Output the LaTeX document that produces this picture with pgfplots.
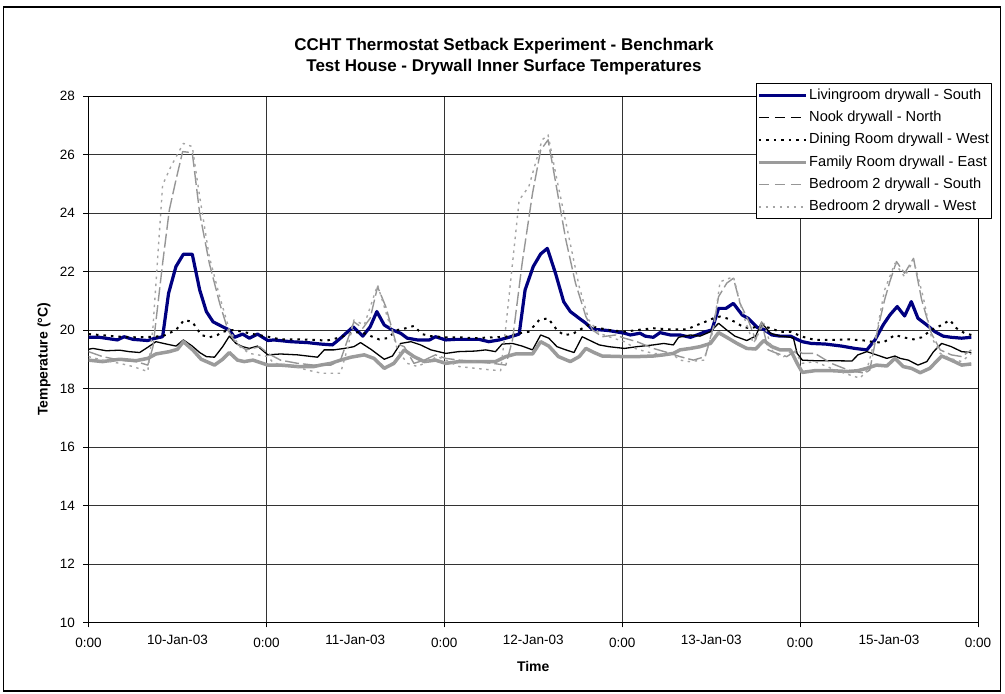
\documentclass[border=0pt]{standalone}
\usepackage{fontspec}
\setmainfont{Liberation Sans}
\usepackage{pgfplots}
\pgfplotsset{compat=1.18}
\definecolor{navyline}{RGB}{0,0,128}
\definecolor{famgray}{RGB}{155,155,155}
\definecolor{bedgray}{RGB}{150,150,150}
\definecolor{bedlight}{RGB}{165,165,165}

\begin{document}
\begin{tikzpicture}[x=1pt,y=1pt]
\useasboundingbox (0,0) rectangle (1005,694);
\draw[line width=1.5pt] (3.5,3) rectangle (1000.5,687);
\node[font=\fontsize{17}{19}\selectfont\bfseries] at (504,648) {CCHT Thermostat Setback Experiment - Benchmark};
\node[font=\fontsize{17}{19}\selectfont\bfseries] at (504,627) {Test House - Drywall Inner Surface Temperatures};

\begin{axis}[
    at={(88.5pt,71.5pt)}, anchor=south west,
    scale only axis, width=889.5pt, height=526.5pt,
    xmin=0, xmax=120, ymin=10, ymax=28,
    xtick={0,24,48,72,96,120},
    xticklabels={0:00,0:00,0:00,0:00,0:00,0:00},
    extra x ticks={12,36,60,84,108},
    extra x tick labels={10-Jan-03,11-Jan-03,12-Jan-03,13-Jan-03,15-Jan-03},
    extra x tick style={major tick length=0pt, grid=none, xticklabel style={yshift=-2pt}},
    ytick={10,12,...,28},
    xtick pos=bottom, ytick pos=left,
    tick align=outside, major tick length=5pt,
    tick style={black, line width=0.8pt},
    grid=major, major grid style={black!80, line width=0.8pt},
    axis line style={line width=0.9pt},
    ticklabel style={font=\fontsize{13.5}{15}\selectfont},
    /pgf/number format/assume math mode=true,
    xticklabel style={yshift=-7pt},
    yticklabel style={xshift=-5pt},
    every axis x label/.style={at={(axis description cs:0.5,-0.084)}, anchor=center},
    every axis y label/.style={at={(axis description cs:-0.05,0.5)}, anchor=center, rotate=90},
    label style={font=\fontsize{14}{16}\selectfont\bfseries},
    xlabel={Time},
    ylabel={Temperature (°C)},
    legend style={at={(axis description cs:1.0157,1.0247)}, anchor=north east,
        draw=black, line width=0.8pt, fill=white,
        font=\fontsize{14.6}{16}\selectfont, inner xsep=1pt, inner ysep=3.5pt,
        row sep=5.3pt, nodes={inner sep=1.5pt, text height=10.8pt, text depth=3.2pt}},
    legend cell align=left,
    legend image code/.code={\draw[#1] (-1pt,0pt) -- (46pt,0pt);},
    line join=round,
]
\addlegendimage{navyline, line width=3.2pt}
\addlegendentry{Livingroom drywall - South}
\addlegendimage{black, line width=1.4pt, dash pattern=on 10pt off 6pt}
\addlegendentry{Nook drywall - North}
\addlegendimage{black, line width=2pt, dash pattern=on 2.5pt off 5pt}
\addlegendentry{Dining Room drywall - West}
\addlegendimage{famgray, line width=3.5pt}
\addlegendentry{Family Room drywall - East}
\addlegendimage{bedgray, line width=1.4pt, dash pattern=on 10pt off 6pt}
\addlegendentry{Bedroom 2 drywall - South}
\addlegendimage{bedlight, line width=1.4pt, dash pattern=on 2.5pt off 4.5pt}
\addlegendentry{Bedroom 2 drywall - West}

% Livingroom drywall - South
\addplot[forget plot, navyline, line width=3.2pt] coordinates {
(0,19.75)(1.5,19.75)(3.9,19.66)(4.8,19.77)(6.0,19.68)(8.0,19.64)(8.7,19.70)(10.0,19.77)
(10.8,21.25)(11.8,22.17)(12.8,22.59)(14.0,22.59)(15.0,21.37)(15.9,20.63)(16.8,20.28)
(18.1,20.11)(19.0,20.0)(19.7,19.75)(20.8,19.86)(21.7,19.72)(22.8,19.86)(24.2,19.64)
(25.0,19.66)(27.3,19.6)(29.5,19.57)(31.3,19.52)(32.9,19.49)(34.0,19.72)(35.7,20.11)
(37.0,19.79)(38.0,20.11)(38.9,20.63)(39.9,20.17)(41.0,20.0)(42.1,19.89)(43.0,19.72)
(44.4,19.66)(46.0,19.66)(46.8,19.77)(48.2,19.66)
(49.5,19.68)(51.3,19.68)(52.7,19.68)(54.0,19.6)(55.4,19.66)(56.7,19.75)(58.1,19.86)
(58.9,21.37)(60.0,22.17)(61.0,22.6)(61.9,22.79)(63.0,21.94)(64.1,20.97)(65.0,20.63)
(66.2,20.4)(67.1,20.23)(68.0,20.02)(69.3,20.0)(70.2,19.98)(72.3,19.89)
(73.1,19.83)(74.4,19.89)(75.1,19.79)(76.2,19.75)(77.1,19.91)(78.5,19.83)(79.8,19.83)
(81.2,19.75)(82.1,19.83)(83.2,19.94)(84.1,20.0)(85.0,20.74)(86.0,20.74)(87.0,20.91)
(88.2,20.51)(89.0,20.4)(90.2,20.09)(91.1,20.02)(92.2,19.83)(93.3,19.79)(94.7,19.79)
(95.6,19.68)(96.3,19.6)
(97.5,19.54)(99.4,19.52)(101.6,19.45)(103.4,19.37)(105.0,19.32)(106.1,19.66)(107.2,20.17)
(108.1,20.51)(109.1,20.8)(110.1,20.48)(111.0,20.97)(111.9,20.4)(113.1,20.17)(114.2,19.94)
(115.3,19.79)(116.4,19.75)(117.8,19.72)(119.1,19.75)
};
% Nook drywall - North
\addplot[forget plot, black, line width=1.3pt] coordinates {
(0,19.34)(0.6,19.37)(2.4,19.29)(4.2,19.31)(5.5,19.26)(6.9,19.23)(8.0,19.41)(9.1,19.6)
(10.5,19.52)(11.8,19.45)(12.8,19.66)(14.0,19.45)(15.0,19.23)(15.9,19.09)(17.0,19.07)
(18.1,19.43)(19.0,19.79)(19.9,19.54)(20.8,19.43)(21.7,19.37)(22.8,19.45)(24.2,19.15)
(25.9,19.18)(28.2,19.15)(30.9,19.07)(31.8,19.32)(33.1,19.32)(34.5,19.37)(35.8,19.43)
(36.7,19.57)(38.1,19.34)(39.9,19.0)(41.0,19.11)(42.1,19.54)(43.5,19.6)(44.8,19.49)
(46.2,19.32)(48.2,19.2)
(49.9,19.26)(52.2,19.28)(53.6,19.32)(54.9,19.26)(55.8,19.52)(57.2,19.54)(58.5,19.45)
(59.9,19.32)(61.0,19.83)(62.1,19.72)(63.2,19.43)(64.4,19.32)(65.5,19.23)(66.6,19.77)
(67.5,19.66)(68.9,19.49)(70.2,19.43)(72.3,19.37)
(74.0,19.43)(76.2,19.49)(77.6,19.54)(78.9,19.49)(79.6,19.75)(81.2,19.83)(82.5,19.79)
(83.9,19.94)(85.0,20.23)(86.1,20.0)(87.2,19.79)(88.8,19.64)(90.0,19.79)(90.8,20.25)
(92.0,19.89)(93.3,19.79)(94.7,19.75)(95.1,19.72)(95.6,19.2)(96.3,18.97)
(98.0,18.95)(100.2,18.95)(103.0,18.94)(103.8,19.15)(105.0,19.26)(106.3,19.15)(107.7,19.03)
(108.8,19.11)(109.5,19.03)(110.6,18.97)(111.9,18.8)(113.1,18.92)(114.0,19.26)(115.1,19.54)
(116.4,19.43)(117.8,19.26)(119.1,19.23)
};
% Dining Room drywall - West
\addplot[forget plot, black, line width=2pt, dash pattern=on 2.5pt off 5pt] coordinates {
(0,19.86)(1.5,19.83)(4.2,19.77)(6.4,19.75)(8.7,19.77)(10.0,19.79)(11.8,20.0)(12.9,20.34)
(14.0,20.28)(15.2,19.83)(16.3,19.75)(17.4,19.83)(18.1,19.94)(19.5,20.0)(20.8,19.94)
(22.2,19.86)(24.2,19.77)
(25.9,19.68)(28.2,19.68)(30.4,19.66)(32.2,19.64)(34.0,19.75)(35.4,19.89)(36.7,19.94)
(38.1,19.79)(39.2,19.68)(40.3,19.72)(41.7,20.0)(42.8,20.06)(43.9,20.14)(45.0,19.86)
(46.2,19.79)(48.2,19.75)
(50.0,19.75)(52.2,19.72)(54.5,19.75)(56.3,19.77)(58.1,19.89)(59.4,19.94)(60.8,20.34)
(62.0,20.4)(63.2,20.0)(64.1,19.83)(65.3,19.86)(66.2,20.0)(67.5,20.17)(68.4,20.09)
(70.2,20.0)(72.3,19.94)
(74.0,20.0)(76.2,20.06)(78.5,20.02)(80.7,20.02)(82.1,20.17)(83.2,20.28)(84.3,20.4)
(85.2,20.46)(86.1,20.4)(87.2,20.28)(88.4,20.09)(89.5,20.06)(90.6,20.17)(92.0,20.06)
(93.3,19.94)(94.7,19.94)(96.3,19.77)
(98.0,19.66)(100.2,19.66)(102.5,19.68)(104.7,19.64)(106.3,19.57)(107.4,19.6)(108.8,19.83)
(109.9,19.75)(111.3,19.68)(112.4,19.75)(113.7,20.0)(115.1,20.17)(116.2,20.34)(117.1,20.06)
(118.2,19.89)(119.1,19.83)
};
% Family Room drywall - East
\addplot[forget plot, famgray, line width=3.5pt] coordinates {
(0,18.97)(1.9,18.92)(4.2,19.0)(6.4,18.95)(8.0,19.03)(9.1,19.18)(10.9,19.26)(12.0,19.34)
(12.8,19.6)(14.1,19.31)(15.2,19.0)(17.0,18.8)(18.1,19.0)(19.0,19.23)(20.1,18.97)
(21.0,18.92)(22.2,18.97)(24.2,18.8)
(25.9,18.8)(28.2,18.75)(30.4,18.75)(31.3,18.8)(32.7,18.86)(34.0,18.97)(35.4,19.07)
(37.2,19.15)(38.5,19.03)(39.9,18.69)(41.2,18.86)(42.6,19.32)(43.9,19.09)(45.3,18.92)
(46.8,18.97)(48.2,18.86)
(50.0,18.92)(52.2,18.92)(54.9,18.92)(56.3,19.09)(57.6,19.18)(59.9,19.18)(61.0,19.6)
(62.1,19.45)(63.4,19.09)(65.0,18.92)(66.2,19.09)(67.1,19.37)(68.2,19.23)(69.3,19.11)
(72.3,19.09)
(74.0,19.09)(76.2,19.11)(77.6,19.15)(78.9,19.2)(79.8,19.32)(81.2,19.37)(82.5,19.43)
(83.9,19.54)(85.0,19.91)(86.1,19.75)(87.5,19.54)(88.8,19.37)(90.0,19.35)(91.1,19.64)
(92.2,19.43)(93.3,19.32)(94.7,19.32)(95.6,18.86)(96.3,18.55)
(98.0,18.61)(100.2,18.61)(102.5,18.58)(103.8,18.61)(105.0,18.69)(106.3,18.8)(107.7,18.77)
(108.8,19.03)(109.9,18.75)(111.0,18.69)(112.2,18.54)(113.5,18.69)(115.1,19.11)(116.4,18.97)
(117.8,18.8)(119.1,18.84)
};
% Bedroom 2 drywall - South
\addplot[forget plot, bedgray, line width=1.4pt, dash pattern=on 14pt off 4pt] coordinates {
(0,19.26)(1.9,19.09)(4.2,18.97)(6.4,18.92)(8.0,18.8)(8.7,19.43)(10.0,22.28)(10.9,24.1)
(11.8,25.13)(12.7,26.1)(14.0,26.06)(15.0,23.99)(16.3,22.28)(17.7,20.91)(18.8,20.0)
(19.9,19.54)(21.3,19.32)(23.1,19.43)(24.2,19.2)
(25.9,18.97)(28.2,18.86)(30.4,18.8)(32.7,18.8)(34.0,18.97)(35.8,20.28)(37.0,20.06)
(38.0,20.4)(39.0,21.48)(40.1,20.8)(41.5,19.54)(42.6,19.43)(43.9,18.86)(45.3,18.97)
(46.8,19.15)(48.2,19.03)
(50.0,18.97)(52.2,18.92)(54.5,18.86)(56.3,18.8)(57.2,19.66)(58.5,22.28)(59.9,24.67)
(61.0,26.15)(62.0,26.5)(63.2,24.79)(64.4,23.08)(65.7,21.6)(67.1,20.46)(68.0,20.0)
(69.3,19.77)(71.1,19.83)(72.3,19.72)
(74.0,19.6)(76.2,19.37)(78.5,19.2)(79.8,19.09)(81.6,18.97)(83.2,19.09)(84.3,20.11)
(85.0,21.14)(86.1,21.6)(87.0,21.77)(87.9,20.91)(89.0,20.34)(90.0,19.66)(90.8,20.28)
(91.7,19.32)(92.9,19.2)(94.2,19.09)(95.6,19.32)(96.3,19.2)
(98.0,19.2)(100.2,18.86)(102.5,18.63)(104.7,18.52)(105.4,18.63)(106.5,20.06)(107.4,21.03)
(108.1,21.65)(109.0,22.34)(110.1,21.94)(111.3,22.45)(112.4,21.03)(113.7,19.89)(114.9,19.32)
(116.4,19.15)(117.8,19.09)(119.1,19.32)
};
% Bedroom 2 drywall - West
\addplot[forget plot, bedlight, line width=1.4pt, dash pattern=on 2.5pt off 4.5pt] coordinates {
(0,19.09)(1.9,18.97)(4.2,18.86)(6.0,18.75)(8.0,18.58)(8.7,20.1)(10.0,24.96)(11.1,25.58)
(12.8,26.38)(14.0,26.27)(15.0,24.56)(16.3,22.5)(17.7,21.14)(19.0,20.0)(20.4,19.43)
(21.7,19.2)(24.2,19.09)
(25.0,18.86)(27.3,18.8)(29.5,18.63)(31.5,18.52)(34.0,18.52)(35.0,19.43)(35.8,20.34)
(37.2,20.17)(39.0,21.54)(40.3,20.46)(41.7,19.32)(43.0,18.86)(44.4,18.75)(45.7,18.92)
(47.1,19.09)(48.2,18.97)
(50.0,18.75)(52.2,18.69)(54.5,18.63)(55.6,18.61)(56.3,20.11)(58.1,24.44)(59.4,24.9)
(61.2,26.5)(62.0,26.67)(63.2,25.13)(64.8,23.19)(66.2,21.48)(67.5,20.34)(68.9,19.89)
(70.2,19.77)(72.3,19.6)
(74.0,19.34)(76.2,19.2)(78.9,19.15)(79.8,18.97)(81.0,18.92)(83.0,18.97)(84.3,20.0)
(85.2,21.65)(87.0,21.82)(88.4,20.46)(89.7,19.54)(91.1,20.23)(92.4,19.2)(93.8,19.09)
(95.1,19.32)(96.3,18.86)
(98.0,18.92)(100.2,18.69)(102.0,18.52)(104.1,18.35)(105.0,18.63)(106.3,19.89)(107.4,21.37)
(108.8,22.28)(110.1,21.82)(111.3,22.39)(112.6,21.14)(113.7,19.77)(114.9,19.2)(116.2,19.03)
(117.8,18.92)(119.1,19.2)
};
\end{axis}
\end{tikzpicture}
\end{document}
